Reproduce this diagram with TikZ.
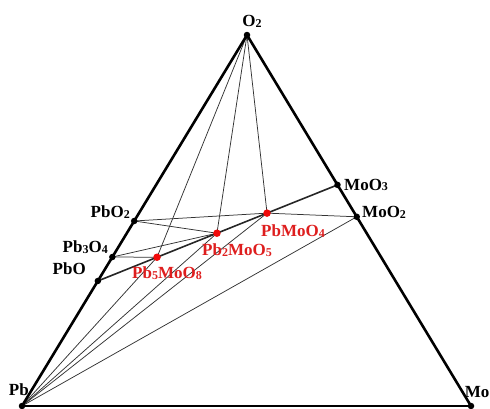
\documentclass[tikz,border=0pt]{standalone}
\usepackage{fontspec}
\setmainfont{Liberation Serif}
\usetikzlibrary{calc}
\pgfdeclarelayer{background}
\pgfsetlayers{background,main}
\definecolor{labred}{RGB}{222,30,30}
\definecolor{dotred}{RGB}{240,10,10}
\newcommand{\sbs}[1]{\raisebox{-0.8pt}{\fontsize{12}{12}\selectfont #1}}
\begin{document}
\begin{tikzpicture}[x=1pt,y=-1pt,
  edge/.style={line width=2.6pt, black},
  joinline/.style={line width=1.6pt, black!85},
  tie/.style={line width=0.75pt, black!80},
  bdot/.style={circle, fill=black, inner sep=0pt, minimum size=6.5pt},
  rdot/.style={circle, fill=dotred, inner sep=0pt, minimum size=7.5pt},
  lab/.style={font=\fontsize{17}{19}\selectfont\bfseries, inner sep=0pt},
  rlab/.style={lab, text=labred}]
\useasboundingbox (0,0) rectangle (490,408);
% vertices
\node[bdot] (O2) at (247,35) {};
\node[bdot] (Pb) at (22,406) {};
\node[bdot] (Mo) at (471,406) {};
% points on edges
\node[bdot] (PbO)  at ($(Pb)!0.337!(O2)$) {};
\node[bdot] (Pb3O4) at ($(Pb)!0.4016!(O2)$) {};
\node[bdot] (PbO2) at ($(Pb)!0.4987!(O2)$) {};
\node[bdot] (MoO3) at ($(O2)!0.404!(Mo)$) {};
\node[bdot] (MoO2) at ($(O2)!0.49!(Mo)$) {};
% interior compounds
\node[rdot] (Pb5MoO8) at ($(PbO)!0.247!(MoO3)$) {};
\node[rdot] (Pb2MoO5) at ($(PbO)!0.497!(MoO3)$) {};
\node[rdot] (PbMoO4) at ($(PbO)!0.706!(MoO3)$) {};
\begin{pgfonlayer}{background}
% tie lines
\draw[tie] (O2.center) -- (Pb5MoO8.center);
\draw[tie] (O2.center) -- (Pb2MoO5.center);
\draw[tie] (O2.center) -- (PbMoO4.center);
\draw[tie] (PbO2.center) -- (Pb2MoO5.center);
\draw[tie] (PbO2.center) -- (PbMoO4.center);
\draw[tie] (Pb3O4.center) -- (Pb5MoO8.center);
\draw[tie] (Pb3O4.center) -- (Pb2MoO5.center);
\draw[tie] (PbMoO4.center) -- (MoO2.center);
\draw[tie] (Pb.center) -- (Pb5MoO8.center);
\draw[tie] (Pb.center) -- (Pb2MoO5.center);
\draw[tie] (Pb.center) -- (PbMoO4.center);
\draw[tie] (Pb.center) -- (MoO2.center);
% PbO-MoO3 join
\draw[joinline] (PbO.center) -- (MoO3.center);
% triangle edges
\draw[edge] (Pb.center) -- (O2.center);
\draw[edge] (O2.center) -- (Mo.center);
\draw[edge] (Pb.center) -- (Mo.center);
\end{pgfonlayer}
% labels
\node[lab] (lO2) at (252,21) {O\sbs{2}};
\node[lab, anchor=west] (lMoO3) at (344,185) {MoO\sbs{3}};
\node[lab, anchor=west] (lMoO2) at (362,212) {MoO\sbs{2}};
\node[lab, anchor=east] (lPbO2) at (130,212) {PbO\sbs{2}};
\node[lab, anchor=east] (lPb3O4) at (108,247) {Pb\sbs{3}O\sbs{4}};
\node[lab, anchor=east] (lPbO) at (86,269) {PbO};
\node[lab, anchor=east] (lPb) at (29,390) {Pb};
\node[lab, anchor=east] (lMo) at (489.5,392) {Mo};
\node[rlab, anchor=west] (lPb5MoO8) at (132,273) {Pb\sbs{5}MoO\sbs{8}};
\node[rlab, anchor=west] (lPb2MoO5) at (202,250) {Pb\sbs{2}MoO\sbs{5}};
\node[rlab, anchor=west] (lPbMoO4) at (261,231) {PbMoO\sbs{4}};
\end{tikzpicture}
\end{document}
